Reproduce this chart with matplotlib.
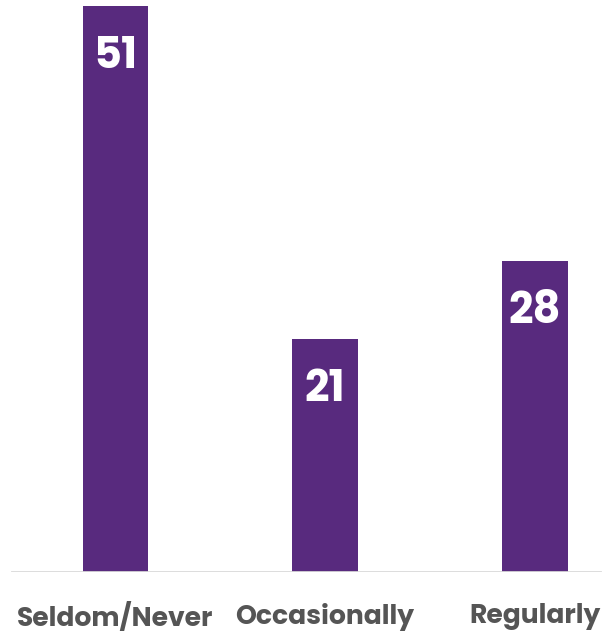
import matplotlib.pyplot as plt

categories = ["Seldom/Never", "Occasionally", "Regularly"]
values = [51, 21, 28]

bar_color = "#582a7e"
label_color = "#555555"

fig = plt.figure(figsize=(6.02, 6.33), dpi=100)
ax = fig.add_axes([0, 0.0956, 1, 0.9044])

x = range(len(categories))
ax.bar(x, values, width=0.31, color=bar_color, zorder=2)

# value labels sit just inside the top of each bar
for xi, v in zip(x, values):
    ax.annotate(str(v), (xi, v), xytext=(0, -37), textcoords="offset points",
                ha="center", va="center", color="white", fontsize=31,
                fontweight="bold", family=["Poppins", "Inter", "DejaVu Sans"])

ax.set_xlim(-0.548, 2.319)
ax.set_ylim(0, 51.53)
ax.axhline(0, xmin=12 / 602, xmax=600 / 602, color="#d9d9d9", lw=2, zorder=3)

for s in ax.spines.values():
    s.set_visible(False)
ax.set_yticks([])
ax.set_xticks(list(x))
ax.set_xticklabels(categories, fontsize=19.2, fontweight="bold", color=label_color,
                   family=["Poppins", "Inter", "DejaVu Sans"])
ax.tick_params(axis="x", length=0, pad=22)

fig.savefig("out.png", dpi=100)
